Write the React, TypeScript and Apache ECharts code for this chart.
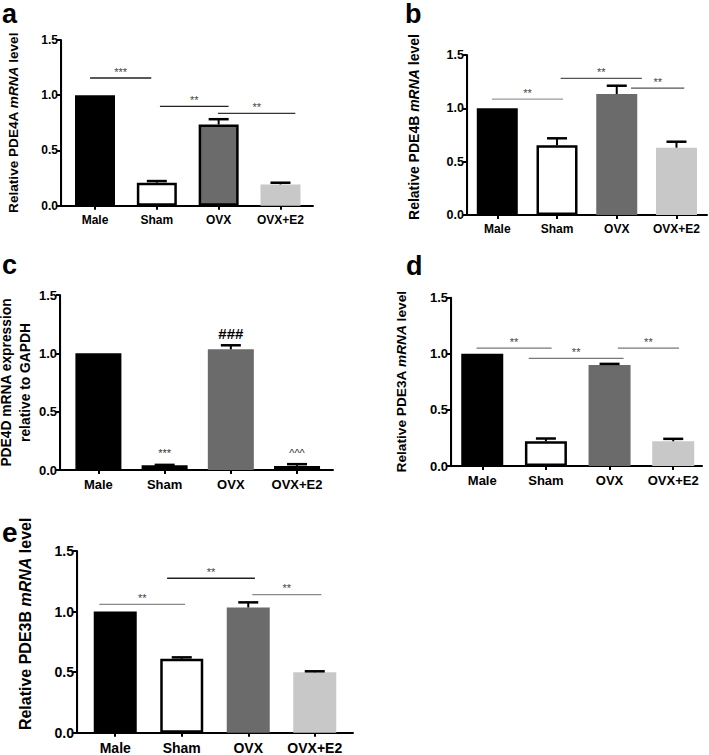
import React, { useEffect, useRef } from 'react';
import * as echarts from 'echarts';

const categories = ['Male', 'Sham', 'OVX', 'OVX+E2'];
const yTicks = [0, 0.5, 1.0, 1.5];

const pde4aMean = [1.0, 0.208, 0.735, 0.193];
const pde4aSem = [0, 0.015, 0.048, 0.015];
const pde4aSig = [[-0.08, 0.91, 1.156], [1.05, 2.16, 0.9], [1.99, 3.24, 0.835]];
const pde4aSigText = ['***', '**', '**'];

const pde4bMean = [1.0, 0.653, 1.134, 0.631];
const pde4bSem = [0, 0.066, 0.078, 0.056];
const pde4bSig = [[-0.09, 1.1, 1.087], [1.06, 2.42, 1.28], [2.24, 3.13, 1.19]];
const pde4bSigText = ['**', '**', '**'];

const pde4dMean = [1.0, 0.04, 1.034, 0.035];
const pde4dSem = [0, 0.004, 0.035, 0.015];
const pde4dMarkPos = [[1, 0.15], [2, 1.17], [3, 0.15]];
const pde4dMarkText = ['***', '###', '^^^'];

const pde3aMean = [1.0, 0.22, 0.9, 0.22];
const pde3aSem = [0, 0.025, 0.01, 0.022];
const pde3aSig = [[-0.09, 1.09, 1.05], [0.73, 2.22, 0.96], [2.13, 3.09, 1.05]];
const pde3aSigText = ['**', '**', '**'];

const pde3bMean = [1.0, 0.61, 1.034, 0.499];
const pde3bSem = [0, 0.012, 0.042, 0.008];
const pde3bSig = [[-0.24, 1.05, 1.06], [0.78, 2.1, 1.275], [2.06, 3.1, 1.14]];
const pde3bSigText = ['**', '**', '**'];

const FONT = '"Liberation Sans", Arial, Helvetica, sans-serif';
// category k sits at x = k + 1 on the numeric x axis
const OFF = 1;
const catPos = categories.map((_, k) => k + OFF);

type Panel = {
  letter: string; letterX: number; letterTop: number; letterSize: number;
  mean: number[]; sem: number[]; sig: number[][]; sigText: string[]; sigColors: string[];
  grid: { left: number; top: number; width: number; height: number };
  xMin: number; xMax: number; barWidth: number; fills: string[]; borders: number[];
  name: string; nameGap: number; nameSize: number; nameLineHeight?: number; nameShift: number;
  tickSize: number; catSize: number; cap: number;
};

const panels: Panel[] = [
  {
    letter: 'a', letterX: 2, letterTop: 0, letterSize: 27,
    mean: pde4aMean, sem: pde4aSem, sig: pde4aSig, sigText: pde4aSigText,
    sigColors: ['#222', '#222', '#333'],
    grid: { left: 61, top: 40, width: 252, height: 165.7 },
    xMin: -0.55, xMax: 3.526, barWidth: 40,
    fills: ['#000000', '#ffffff', '#6b6b6b', '#c8c8c8'], borders: [0, 2.5, 2.5, 0],
    name: 'Relative PDE4A {i|mRNA} level', nameGap: 39, nameSize: 13.6, nameShift: 0,
    tickSize: 12, catSize: 12, cap: 20,
  },
  {
    letter: 'b', letterX: 405, letterTop: 0, letterSize: 27,
    mean: pde4bMean, sem: pde4bSem, sig: pde4bSig, sigText: pde4bSigText,
    sigColors: ['#999', '#555', '#555'],
    grid: { left: 467, top: 55, width: 240, height: 160 },
    xMin: -0.507, xMax: 3.511, barWidth: 41,
    fills: ['#000000', '#ffffff', '#6b6b6b', '#c8c8c8'], borders: [0, 2.5, 0, 0],
    name: 'Relative PDE4B {i|mRNA} level', nameGap: 45, nameSize: 14, nameShift: 16,
    tickSize: 12.5, catSize: 12, cap: 20,
  },
  {
    letter: 'c', letterX: 2, letterTop: 251, letterSize: 27,
    mean: pde4dMean, sem: pde4dSem, sig: [], sigText: [], sigColors: [],
    grid: { left: 60, top: 295, width: 273, height: 175 },
    xMin: -0.58, xMax: 3.543, barWidth: 46,
    fills: ['#000000', '#ffffff', '#6b6b6b', '#ffffff'], borders: [0, 2.5, 0, 2.5],
    name: 'PDE4D mRNA expression\nrelative to GAPDH', nameGap: 18, nameSize: 13.8, nameLineHeight: 19, nameShift: 0,
    tickSize: 13, catSize: 13, cap: 20,
  },
  {
    letter: 'd', letterX: 406, letterTop: 252.7, letterSize: 27,
    mean: pde3aMean, sem: pde3aSem, sig: pde3aSig, sigText: pde3aSigText,
    sigColors: ['#777', '#777', '#777'],
    grid: { left: 451, top: 297.7, width: 251, height: 168.3 },
    xMin: -0.491, xMax: 3.452, barWidth: 42,
    fills: ['#000000', '#ffffff', '#6b6b6b', '#c8c8c8'], borders: [0, 2.5, 0, 0],
    name: 'Relative PDE3A {i|mRNA} level', nameGap: 41, nameSize: 13.7, nameShift: 0,
    tickSize: 13, catSize: 13, cap: 20,
  },
  {
    letter: 'e', letterX: 2, letterTop: 518.7, letterSize: 28,
    mean: pde3bMean, sem: pde3bSem, sig: pde3bSig, sigText: pde3bSigText,
    sigColors: ['#888', '#222', '#888'],
    grid: { left: 77, top: 551, width: 276, height: 181.7 },
    xMin: -0.575, xMax: 3.575, barWidth: 43,
    fills: ['#000000', '#ffffff', '#6b6b6b', '#c8c8c8'], borders: [0, 2.5, 0, 0],
    name: 'Relative PDE3B {i|mRNA} level', nameGap: 42, nameSize: 16, nameShift: 36,
    tickSize: 14, catSize: 14, cap: 20,
  },
];

function buildOption() {
  const grids: any[] = [];
  const xAxes: any[] = [];
  const yAxes: any[] = [];
  const series: any[] = [];
  const graphics: any[] = [];

  panels.forEach((p, i) => {
    grids.push({ ...p.grid, containLabel: false, outerBoundsMode: 'none' });
    xAxes.push({
      gridIndex: i,
      type: 'value',
      min: p.xMin + OFF,
      max: p.xMax + OFF,
      axisLine: { show: true, onZero: false, lineStyle: { color: '#000', width: 2 } },
      axisTick: { show: true, length: 4, customValues: catPos, lineStyle: { color: '#000', width: 2 } },
      axisLabel: {
        show: true,
        customValues: catPos,
        formatter: (v: number) => categories[Math.round(v) - OFF] ?? '',
        color: '#000', fontWeight: 'bold', fontFamily: FONT, fontSize: p.catSize, margin: 8,
      },
      splitLine: { show: false },
    });
    yAxes.push({
      gridIndex: i,
      type: 'value',
      position: 'left',
      min: yTicks[0],
      max: yTicks[yTicks.length - 1],
      interval: 0.5,
      axisLine: { show: true, onZero: false, lineStyle: { color: '#000', width: 2 } },
      axisTick: { show: true, length: 4, lineStyle: { color: '#000', width: 2 } },
      axisLabel: {
        formatter: (v: number) => v.toFixed(1),
        color: '#000', fontWeight: 'bold', fontFamily: FONT, fontSize: p.tickSize, margin: 3,
      },
      splitLine: { show: false },
      name: p.name,
      nameLocation: 'middle',
      nameGap: p.nameGap,
      nameTextStyle: {
        color: '#000', fontWeight: 'bold', fontFamily: FONT, fontSize: p.nameSize,
        lineHeight: p.nameLineHeight ?? p.nameSize * 1.2,
        align: 'center',
        padding: [0, 0, 0, p.nameShift],
        rich: { i: { fontStyle: 'italic', fontWeight: 'bold', fontFamily: FONT, fontSize: p.nameSize, color: '#000' } },
      },
    });

    // left axis spine through the axis scales
    series.push({
      type: 'custom',
      xAxisIndex: i,
      yAxisIndex: i,
      z: 10,
      clip: false,
      silent: true,
      data: [[p.xMin + OFF + 0.001, yTicks[0], yTicks[yTicks.length - 1]]],
      renderItem: (params: any, api: any) => {
        const b = api.coord([api.value(0), api.value(1)]);
        const t = api.coord([api.value(0), api.value(2)]);
        return {
          type: 'rect',
          shape: { x: b[0] - 1, y: t[1], width: 2, height: b[1] - t[1] + 1 },
          style: { fill: '#000000' },
        };
      },
    });

    series.push({
      type: 'bar',
      xAxisIndex: i,
      yAxisIndex: i,
      barWidth: p.barWidth,
      z: 2,
      data: p.mean.map((v, j) => ({
        value: [catPos[j], v],
        itemStyle: { color: p.fills[j], borderColor: '#000', borderWidth: p.borders[j] },
      })),
    });

    const cap = p.cap;
    series.push({
      type: 'custom',
      xAxisIndex: i,
      yAxisIndex: i,
      z: 3,
      data: p.mean.map((v, j) => [catPos[j], v, v + p.sem[j]]),
      renderItem: (params: any, api: any) => {
        const x = api.value(0);
        const m = api.value(1);
        const t = api.value(2);
        if (t - m <= 0) return { type: 'group', children: [] };
        const p0 = api.coord([x, m]);
        const p1 = api.coord([x, t]);
        return {
          type: 'group',
          children: [
            { type: 'line', shape: { x1: p0[0], y1: p0[1], x2: p1[0], y2: p1[1] }, style: { stroke: '#000', lineWidth: 2 } },
            { type: 'line', shape: { x1: p1[0] - cap / 2, y1: p1[1], x2: p1[0] + cap / 2, y2: p1[1] }, style: { stroke: '#000', lineWidth: 2.5 } },
          ],
        };
      },
    });

    if (p.sig.length) {
      series.push({
        type: 'custom',
        xAxisIndex: i,
        yAxisIndex: i,
        z: 4,
        data: p.sig.map((s) => [s[0] + OFF, s[1] + OFF, s[2]]),
        renderItem: (params: any, api: any) => {
          const a = api.coord([api.value(0), api.value(2)]);
          const b = api.coord([api.value(1), api.value(2)]);
          const color = p.sigColors[params.dataIndex];
          return {
            type: 'group',
            children: [
              { type: 'line', shape: { x1: a[0], y1: a[1], x2: b[0], y2: b[1] }, style: { stroke: color, lineWidth: 1.3 } },
              {
                type: 'text',
                style: {
                  text: p.sigText[params.dataIndex],
                  x: (a[0] + b[0]) / 2,
                  y: a[1] - 1,
                  textAlign: 'center',
                  textVerticalAlign: 'bottom',
                  font: `11px ${FONT}`,
                  fill: '#444',
                },
              },
            ],
          };
        },
      });
    }

    if (i === 2) {
      series.push({
        type: 'custom',
        xAxisIndex: i,
        yAxisIndex: i,
        z: 4,
        data: pde4dMarkPos.map((m) => [m[0] + OFF, m[1]]),
        renderItem: (params: any, api: any) => {
          const c = api.coord([api.value(0), api.value(1)]);
          const txt = pde4dMarkText[params.dataIndex];
          const big = txt === '###';
          return {
            type: 'text',
            style: {
              text: txt, x: c[0], y: c[1],
              textAlign: 'center', textVerticalAlign: 'middle',
              font: big ? `bold 15px ${FONT}` : `11px ${FONT}`,
              fill: big ? '#000' : '#333',
            },
          };
        },
      });
    }

    graphics.push({
      type: 'text',
      left: p.letterX,
      top: p.letterTop,
      style: { text: p.letter, font: `bold ${p.letterSize}px ${FONT}`, lineHeight: 16, fill: '#000' },
    });
  });

  return {
    animation: false,
    backgroundColor: '#ffffff',
    grid: grids,
    xAxis: xAxes,
    yAxis: yAxes,
    series,
    graphic: graphics,
  };
}

export default function App() {
  const ref = useRef<HTMLDivElement>(null);
  useEffect(() => {
    if (!ref.current) return;
    const chart = echarts.init(ref.current, null, { renderer: 'svg' });
    chart.setOption(buildOption());
    return () => chart.dispose();
  }, []);
  return (
    <div ref={ref} style={{ position: 'absolute', left: 0, top: 0, width: 709, height: 755, background: '#fff' }} />
  );
}
